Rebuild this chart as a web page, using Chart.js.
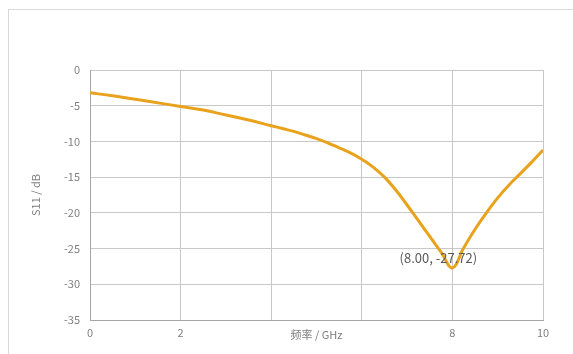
<!DOCTYPE html>
<html>
<head>
<meta charset="utf-8">
<script src="https://cdn.jsdelivr.net/npm/chart.js@4"></script>
<style>
  html, body { margin: 0; padding: 0; background: #fff; }
  #wrap { position: relative; width: 573px; height: 354px; }
  #frame { position: absolute; left: 8px; top: 9px; width: 580px; height: 360px; border: 1px solid #d9d9d9; }
  canvas { position: absolute; left: 0; top: 0; }
</style>
</head>
<body>
<div id="wrap">
  <div id="frame"></div>
  <canvas id="s11Chart" width="573" height="354"></canvas>
</div>
<script>
// frequency (GHz) and return loss (dB)
var freq = [0, 0.5, 1, 1.5, 2, 2.5, 3, 3.5, 4, 4.25, 4.5, 4.75, 5, 5.25, 5.5, 5.75, 6, 6.25, 6.5, 6.75, 7, 7.25, 7.5, 7.75, 8, 8.25, 8.5, 8.75, 9, 9.25, 9.5, 9.75, 10];
var s11 = [-3.2, -3.6, -4.1, -4.6, -5.1, -5.6, -6.3, -7.0, -7.8, -8.2, -8.6, -9.1, -9.6, -10.2, -10.9, -11.6, -12.5, -13.6, -15.0, -16.8, -18.9, -21.1, -23.3, -25.5, -27.7, -24.9, -22.3, -20.0, -17.9, -16.1, -14.5, -12.9, -11.2];
var xTicks = [0, 2, 4, 6, 8, 10];
var yTicks = [0, -5, -10, -15, -20, -25, -30, -35];
var xTitle = "频率 / GHz";
var yTitle = "S11 / dB";
var markLabel = "(8.00, -27.72)";

var points = [];
for (let i = 0; i < freq.length; i++) {
   points.push({ x: freq[i], y: s11[i] });
}

var fontFam = "'Noto Sans CJK SC', 'Liberation Sans', sans-serif";

// axis titles and the minimum label
var textPlugin = {
   id: "texts",
   afterDraw: function (chart) {
      var c = chart.ctx;
      var xs = chart.scales.x;
      var ys = chart.scales.y;
      c.save();
      c.fillStyle = "#7f7f7f";
      c.font = "11px " + fontFam;
      c.textAlign = "center";
      c.textBaseline = "middle";
      c.fillText(xTitle, (xs.left + xs.right) / 2, 335);
      c.save();
      c.translate(36, (ys.top + ys.bottom) / 2);
      c.rotate(-Math.PI / 2);
      c.fillText(yTitle, 0, 0);
      c.restore();
      c.fillStyle = "#595959";
      c.font = "13px " + fontFam;
      c.fillText(markLabel, xs.getPixelForValue(8) - 14, ys.getPixelForValue(-27.7) - 10);
      c.restore();
   },
};

var ctx = document.getElementById("s11Chart").getContext("2d");
var chart = new Chart(ctx, {
   type: "line",
   data: {
      datasets: [
         {
            label: yTitle,
            data: points,
            borderColor: "#e8a21c",
            borderWidth: 3,
            pointRadius: 0,
            tension: 0.4,
         },
      ],
   },
   options: {
      responsive: false,
      animation: false,
      layout: { padding: { left: 0, top: 70, right: 30, bottom: 0 } },
      plugins: { legend: { display: false }, tooltip: { enabled: false } },
      scales: {
         x: {
            type: "linear",
            min: 0,
            max: 10,
            afterBuildTicks: function (scale) {
               scale.ticks = xTicks.map((v) => ({ value: v }));
            },
            afterFit: function (scale) {
               scale.height = 34;
            },
            ticks: {
               color: "#7f7f7f",
               font: { size: 11, family: fontFam },
               maxRotation: 0,
               padding: 6,
               callback: function (v) {
                  return v == 4 || v == 6 ? "" : v;
               },
            },
            grid: { color: "#c8c8c8", lineWidth: 1, drawTicks: false },
            border: { color: "#a6a6a6" },
         },
         y: {
            min: -35,
            max: 0,
            afterBuildTicks: function (scale) {
               scale.ticks = yTicks.map((v) => ({ value: v }));
            },
            afterFit: function (scale) {
               scale.width = 90;
            },
            ticks: {
               color: "#7f7f7f",
               font: { size: 11, family: fontFam },
               padding: 10,
            },
            grid: { color: "#c8c8c8", lineWidth: 1, drawTicks: false },
            border: { color: "#a6a6a6" },
         },
      },
   },
   plugins: [textPlugin],
});
</script>
</body>
</html>
